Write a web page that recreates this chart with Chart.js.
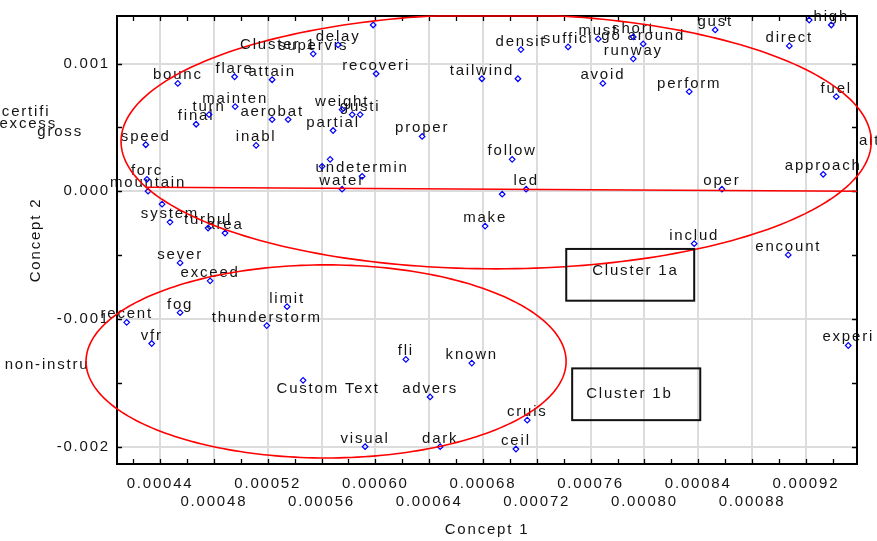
<!DOCTYPE html>
<html>
<head>
<meta charset="utf-8">
<script src="https://cdn.jsdelivr.net/npm/chart.js@4.4.1/dist/chart.umd.min.js"></script>
<style>
html, body { margin: 0; padding: 0; background: #fff; }
canvas { display: block; }
</style>
</head>
<body>
<canvas id="concept-chart" width="877" height="541"></canvas>
<script>
// term labels, '' = point without a visible label
const terms = ['bounc', 'flare', 'attain', 'mainten', 'turn', 'final', 'aerobat', '', 'inabl', 'speed',
	'forc', 'mountain', 'certifi', 'excess', 'gross', 'supervis', 'delay', '', 'recoveri', 'tailwind',
	'', 'densit', 'suffici', 'must', 'short', 'go around', 'runway', 'avoid', 'perform', 'gust',
	'direct', '', 'high', 'fuel', 'approach', 'altitud', 'oper', 'weight', 'gusti', '',
	'partial', 'proper', 'follow', 'undetermin', '', '', 'water', 'led', '', 'system',
	'', 'turbul', 'area', 'sever', 'exceed', 'fog', 'recent', 'vfr', 'limit', 'thunderstorm',
	'make', 'fli', 'known', 'includ', 'encount', 'experi', 'non-instru', '', 'advers', 'visual',
	'dark', 'cruis', 'ceil'];

const concept1 = [0.0004532, 0.0004954, 0.0005233, 0.0004958, 0.0004764, 0.0004668, 0.0005233, 0.0005352, 0.0005114, 0.0004294,
	0.0004303, 0.0004311, 0.0003404, 0.0003420, 0.0003657, 0.0005538, 0.0005723, 0.0005984, 0.0006006, 0.0006792,
	0.0007060, 0.0007082, 0.0007433, 0.0007657, 0.0007917, 0.0007991, 0.0007917, 0.0007691, 0.0008333, 0.0008526,
	0.0009077, 0.0009225, 0.0009389, 0.0009426, 0.0009329, 0.0009790, 0.0008576, 0.0005753, 0.0005887, 0.0005828,
	0.0005686, 0.0006348, 0.0007017, 0.0005902, 0.0005664, 0.0005604, 0.0005753, 0.0007121, 0.0006943, 0.0004474,
	0.0004415, 0.0004757, 0.0004883, 0.0004549, 0.0004772, 0.0004549, 0.0004152, 0.0004338, 0.0005344, 0.0005193,
	0.0006816, 0.0006227, 0.0006717, 0.0008370, 0.0009069, 0.0009515, 0.0003560, 0.0005463, 0.0006407, 0.0005924,
	0.0006482, 0.0007129, 0.0007045];

const concept2 = [0.0008441, 0.0008963, 0.0008729, 0.0006625, 0.0006001, 0.0005245, 0.0005612, 0.0005612, 0.0003585, 0.0003640,
	0.0000935, 0.0000000, 0.0005612, 0.0004598, 0.0003975, 0.0010756, 0.0011457, 0.0013016, 0.0009197, 0.0008807,
	0.0008807, 0.0011091, 0.0011301, 0.0011925, 0.0012081, 0.0011535, 0.0010366, 0.0008441, 0.0007794, 0.0012626,
	0.0011379, 0.0013406, 0.0013016, 0.0007404, 0.0001325, 0.0003273, 0.0000156, 0.0006391, 0.0006001, 0.0006001,
	0.0004754, 0.0004287, 0.0002494, 0.0001169, 0.0002494, 0.0001949, 0.0000156, 0.0000156, -0.0000234, -0.0002416,
	-0.0001013, -0.0002884, -0.0003273, -0.0005612, -0.0007015, -0.0009509, -0.0010265, -0.0011925, -0.0009041, -0.0010522,
	-0.0002728, -0.0013172, -0.0013460, -0.0004107, -0.0004988, -0.0012081, -0.0014263, -0.0014809, -0.0016110, -0.0020007,
	-0.0020007, -0.0017926, -0.0020186];

// axis ticks
const xTickValues = [0.00044, 0.00048, 0.00052, 0.00056, 0.00060, 0.00064, 0.00068, 0.00072, 0.00076, 0.00080, 0.00084, 0.00088, 0.00092];
const xTickLabels = ['0.00044', '0.00048', '0.00052', '0.00056', '0.00060', '0.00064', '0.00068', '0.00072', '0.00076', '0.00080', '0.00084', '0.00088', '0.00092'];
const xMinorTicks = [0.00042, 0.00044, 0.00046, 0.00048, 0.00050, 0.00052, 0.00054, 0.00056, 0.00058, 0.00060, 0.00062, 0.00064, 0.00066, 0.00068,
	0.00070, 0.00072, 0.00074, 0.00076, 0.00078, 0.00080, 0.00082, 0.00084, 0.00086, 0.00088, 0.00090, 0.00092, 0.00094];
const yTickValues = [-0.002, -0.001, 0.000, 0.001];
const yTickLabels = ['-0.002', '-0.001', '0.000', '0.001'];
const yMinorTicks = [-0.002, -0.0015, -0.001, -0.0005, 0, 0.0005, 0.001];

// cluster outlines (centre, radii in data units)
const clusterEllipses = [
	{ cx: 0.0006898, cy: 0.0003897, rx: 0.0002788, ry: 0.0009976 },
	{ cx: 0.0005634, cy: -0.0013328, rx: 0.0001784, ry: 0.000756 }
];
const clusterChord = { x0: 0.0004303, y0: 0.0000312, x1: 0.000958, y1: 0.0 };
const clusterBoxes = [
	{ x0: 0.0007419, x1: 0.0008370, y0: -0.0004521, y1: -0.0008573 },
	{ x0: 0.0007463, x1: 0.0008415, y0: -0.0013873, y1: -0.0017926 }
];
const annotations = [
	{ text: 'Cluster 1', x: 0.0004995, y: 0.0011150, align: 'left' },
	{ text: 'Cluster 1a', x: 0.0007612, y: -0.0006550, align: 'left' },
	{ text: 'Cluster 1b', x: 0.0007567, y: -0.0016200, align: 'left' },
	{ text: 'Custom Text', x: 0.0005649, y: -0.0015800, align: 'center' }
];

const FONT = '15px "Liberation Sans", Arial, sans-serif';
const TEXT_COLOR = '#141414';
const SPACING = '1.8px';

const overlay = {
	id: 'overlay',
	beforeUpdate(chart) {
		chart.ctx.letterSpacing = SPACING;
	},
	beforeDraw(chart) {
		const ctx = chart.ctx;
		ctx.save();
		ctx.fillStyle = '#fff';
		ctx.fillRect(0, 0, chart.width, chart.height);
		ctx.restore();
		ctx.letterSpacing = SPACING;
	},
	beforeDatasetsDraw(chart) {
		// word labels, sitting just above the point
		const ctx = chart.ctx;
		const xs = chart.scales.x, ys = chart.scales.y;
		ctx.save();
		ctx.font = FONT;
		ctx.fillStyle = TEXT_COLOR;
		ctx.textAlign = 'center';
		ctx.textBaseline = 'alphabetic';
		terms.forEach((t, i) => {
			if (!t) return;
			ctx.fillText(t, xs.getPixelForValue(concept1[i]), ys.getPixelForValue(concept2[i]) - 4);
		});
		ctx.restore();
	},
	afterDatasetsDraw(chart) {
		const ctx = chart.ctx;
		const xs = chart.scales.x, ys = chart.scales.y;
		const a = chart.chartArea;
		ctx.save();

		// frame + inward ticks
		ctx.strokeStyle = '#000';
		ctx.lineWidth = 2;
		ctx.strokeRect(a.left, a.top, a.right - a.left, a.bottom - a.top);
		ctx.lineWidth = 1.3;
		ctx.beginPath();
		xMinorTicks.forEach(v => {
			const px = Math.round(xs.getPixelForValue(v)) + 0.5;
			if (px < a.left || px > a.right) return;
			ctx.moveTo(px, a.bottom); ctx.lineTo(px, a.bottom - 5);
			ctx.moveTo(px, a.top); ctx.lineTo(px, a.top + 5);
		});
		yMinorTicks.forEach(v => {
			const py = Math.round(ys.getPixelForValue(v)) + 0.5;
			ctx.moveTo(a.left, py); ctx.lineTo(a.left + 5, py);
			ctx.moveTo(a.right, py); ctx.lineTo(a.right - 5, py);
		});
		ctx.stroke();

		// red cluster outlines
		ctx.strokeStyle = '#ff0000';
		ctx.lineWidth = 1.6;
		clusterEllipses.forEach(e => {
			ctx.beginPath();
			for (let k = 0; k <= 240; k++) {
				const t = k / 240 * Math.PI * 2;
				const px = xs.getPixelForValue(e.cx + e.rx * Math.cos(t));
				const py = Math.max(a.top, ys.getPixelForValue(e.cy + e.ry * Math.sin(t)));
				if (k === 0) ctx.moveTo(px, py); else ctx.lineTo(px, py);
			}
			ctx.stroke();
		});
		ctx.beginPath();
		ctx.moveTo(xs.getPixelForValue(clusterChord.x0), ys.getPixelForValue(clusterChord.y0));
		ctx.lineTo(xs.getPixelForValue(clusterChord.x1), ys.getPixelForValue(clusterChord.y1));
		ctx.stroke();

		// boxes
		ctx.strokeStyle = '#111';
		ctx.lineWidth = 2;
		clusterBoxes.forEach(b => {
			const x0 = xs.getPixelForValue(b.x0), x1 = xs.getPixelForValue(b.x1);
			const y0 = ys.getPixelForValue(b.y0), y1 = ys.getPixelForValue(b.y1);
			ctx.strokeRect(x0, y0, x1 - x0, y1 - y0);
		});

		ctx.font = FONT;
		ctx.fillStyle = TEXT_COLOR;
		ctx.textBaseline = 'alphabetic';
		annotations.forEach(n => {
			ctx.textAlign = n.align;
			ctx.fillText(n.text, xs.getPixelForValue(n.x), ys.getPixelForValue(n.y));
		});
		ctx.restore();
	}
};

const ctx = document.getElementById('concept-chart').getContext('2d');
new Chart(ctx, {
	type: 'scatter',
	data: {
		datasets: [{
			data: concept1.map((x, i) => ({ x: x, y: concept2[i] })),
			pointStyle: 'rectRot',
			pointRadius: 2.8,
			pointBorderWidth: 1.2,
			borderColor: '#0000ff',
			backgroundColor: 'rgba(255,255,255,0)'
		}]
	},
	options: {
		responsive: false,
		animation: false,
		events: [],
		layout: { padding: { top: 14, right: 20, left: 0, bottom: 0 } },
		plugins: { legend: { display: false }, tooltip: { enabled: false } },
		scales: {
			x: {
				type: 'linear',
				min: 0.000408,
				max: 0.000958,
				afterBuildTicks: s => { s.ticks = xTickValues.map(v => ({ value: v })); },
				afterFit: s => { s.height = 77; },
				border: { display: false },
				grid: { color: '#dcdcdc', lineWidth: 2, drawTicks: false },
				ticks: {
					autoSkip: false, maxRotation: 0, minRotation: 0, padding: 10,
					color: TEXT_COLOR,
					font: { family: '"Liberation Sans", Arial, sans-serif', size: 15, lineHeight: 1.25 },
					callback: (v, i) => i % 2 === 0 ? xTickLabels[i] : ['', xTickLabels[i]]
				},
				title: {
					display: true, text: 'Concept 1', color: TEXT_COLOR,
					font: { family: '"Liberation Sans", Arial, sans-serif', size: 15, lineHeight: 1.25 },
					padding: { top: 0, bottom: 2 }
				}
			},
			y: {
				type: 'linear',
				min: -0.002136,
				max: 0.001372,
				afterBuildTicks: s => { s.ticks = yTickValues.map(v => ({ value: v })); },
				afterFit: s => { s.width = 117; },
				border: { display: false },
				grid: { color: '#dcdcdc', lineWidth: 2, drawTicks: false },
				ticks: {
					padding: 7,
					color: TEXT_COLOR,
					font: { family: '"Liberation Sans", Arial, sans-serif', size: 15 },
					callback: (v, i) => yTickLabels[i]
				},
				title: {
					display: true, text: 'Concept 2', color: TEXT_COLOR,
					font: { family: '"Liberation Sans", Arial, sans-serif', size: 15, lineHeight: 1.25 },
					padding: { top: 26, bottom: 0 }
				}
			}
		}
	},
	plugins: [overlay]
});
</script>
</body>
</html>
